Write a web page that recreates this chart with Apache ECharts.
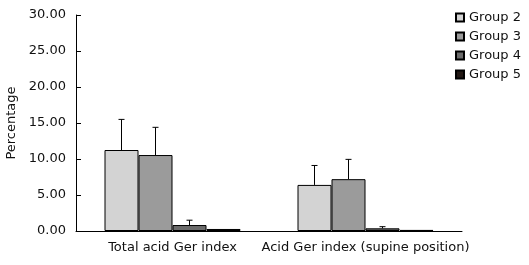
<!DOCTYPE html>
<html lang="en">
<head>
    <meta charset="UTF-8">
    <title>Percentage</title>
    <script src="https://cdn.jsdelivr.net/npm/echarts@6.0.0/dist/echarts.min.js"></script>
    <style>
        html, body { margin: 0; padding: 0; background: #fff; }
    </style>
</head>
<body>
<div id="chart" style="width: 529px;height:265px;"></div>
<script>
    var categories = ['Total acid Ger index', 'Acid Ger index (supine position)'];
    var groups = ['Group 2', 'Group 3', 'Group 4', 'Group 5'];
    var colors = ['#d3d3d3', '#9b9b9b', '#6b6b6b', '#221814'];
    var means = [
        [11.25, 6.4],
        [10.55, 7.2],
        [0.83, 0.37],
        [0.28, 0.15]
    ];
    var errors = [
        [4.25, 2.7],
        [3.85, 2.75],
        [0.67, 0.23],
        [0, 0]
    ];
    var yTicks = [0, 30, 5];

    var barWidth = 34;
    var font = 'DejaVu Sans';

    var series = [];
    groups.forEach(function (name, gi) {
        series.push({
            name: name,
            type: 'bar',
            barWidth: barWidth,
            barGap: '0%',
            itemStyle: {
                color: colors[gi],
                borderColor: '#000',
                borderWidth: 1
            },
            data: means[gi]
        });
    });
    groups.forEach(function (name, gi) {
        var errData = means[gi].map(function (m, ci) {
            return [ci, m, m + errors[gi][ci]];
        });
        series.push({
            type: 'custom',
            silent: true,
            z: 1,
            renderItem: function (params, api) {
                if (api.value(2) <= api.value(1)) return null;
                var base = api.coord([api.value(0), api.value(1)]);
                var top = api.coord([api.value(0), api.value(2)]);
                var x = base[0] + (gi - 1.5) * barWidth;
                return {
                    type: 'group',
                    children: [
                        {type: 'line', shape: {x1: x, y1: base[1], x2: x, y2: top[1]}, style: {stroke: '#000', lineWidth: 1}},
                        {type: 'line', shape: {x1: x - 3, y1: top[1], x2: x + 3, y2: top[1]}, style: {stroke: '#000', lineWidth: 1}}
                    ]
                };
            },
            data: errData
        });
    });

    echarts.init(document.getElementById('chart')).setOption({
        animation: false,
        textStyle: {fontFamily: font},
        legend: {
            data: groups,
            orient: 'vertical',
            left: 450,
            top: 6,
            icon: 'rect',
            itemWidth: 8,
            itemHeight: 8,
            itemGap: 6,
            textStyle: {fontFamily: font, fontSize: 13, color: '#111'}
        },
        grid: {
            left: 76,
            right: 67,
            top: 15,
            bottom: 34,
            outerBoundsMode: 'none',
            containLabel: false
        },
        xAxis: {
            type: 'category',
            data: categories,
            axisLine: {lineStyle: {color: '#000', width: 1}},
            axisTick: {show: false},
            axisLabel: {interval: 0, fontFamily: font, fontSize: 13, color: '#111', margin: 10}
        },
        yAxis: {
            type: 'value',
            min: yTicks[0],
            max: yTicks[1],
            interval: yTicks[2],
            name: 'Percentage',
            nameLocation: 'middle',
            nameGap: 56,
            nameTextStyle: {fontFamily: font, fontSize: 13, color: '#111'},
            axisLine: {show: true, lineStyle: {color: '#000', width: 1}},
            axisTick: {show: true, inside: true, length: 5, lineStyle: {color: '#000'}},
            splitLine: {show: false},
            axisLabel: {
                fontFamily: font, fontSize: 13, color: '#111', margin: 10,
                formatter: function (v) { return v.toFixed(2); }
            }
        },
        series: series
    });
</script>
</body>
</html>
